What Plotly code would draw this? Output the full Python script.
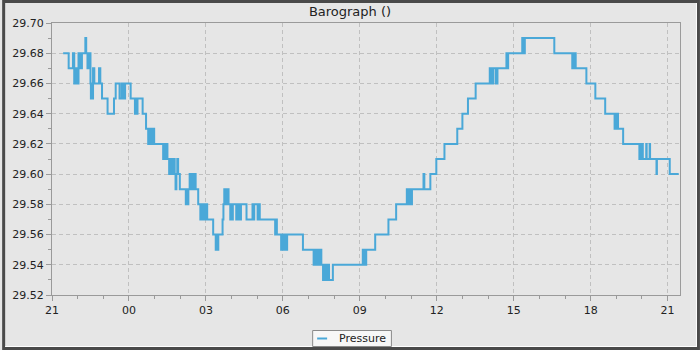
import plotly.graph_objects as go

# ---- data (step readings) ----
day1_times = ["21:26", "21:39", "21:49", "21:52", "21:54", "21:56", "21:58", "22:00", "22:02", "22:06",
              "22:07", "22:09", "22:10", "22:18", "22:20", "22:23", "22:25", "22:27", "22:29", "22:30",
              "22:31", "22:33", "22:35", "22:36", "22:39", "22:50", "22:53", "22:57", "23:10", "23:25",
              "23:29", "23:38", "23:43", "23:45", "23:47", "23:49", "23:51"]
day1_values = [29.68, 29.67, 29.68, 29.66, 29.67, 29.66, 29.67, 29.66, 29.68, 29.67,
               29.68, 29.67, 29.68, 29.69, 29.68, 29.67, 29.68, 29.67, 29.68, 29.66,
               29.65, 29.66, 29.65, 29.67, 29.66, 29.67, 29.66, 29.65, 29.64, 29.65,
               29.66, 29.65, 29.66, 29.65, 29.66, 29.65, 29.66]

day2_times = ["00:04", "00:14", "00:16", "00:18", "00:20", "00:32", "00:40", "00:45", "00:47", "00:49",
              "00:51", "00:53", "00:57", "00:59", "01:20", "01:22", "01:24", "01:26", "01:30", "01:34",
              "01:36", "01:38", "01:40", "01:42", "01:44", "01:47", "01:49", "01:51", "01:53", "01:55",
              "01:59", "02:13", "02:15", "02:17", "02:19", "02:22", "02:24", "02:26", "02:28", "02:30",
              "02:32", "02:34", "02:36", "02:42", "02:47", "02:49", "02:51", "02:53", "02:55", "02:57",
              "02:59", "03:01", "03:03", "03:17", "03:23", "03:25", "03:27", "03:29", "03:39", "03:41",
              "03:43", "03:45", "03:47", "03:49", "03:51", "03:53", "03:57", "03:59", "04:01", "04:03",
              "04:11", "04:12", "04:16", "04:17", "04:21", "04:22", "04:35", "04:49", "04:51", "04:53",
              "05:01", "05:02", "05:06", "05:42", "05:44", "05:46", "05:56", "05:58", "06:00", "06:02",
              "06:04", "06:06", "06:08", "06:10", "06:47", "07:12", "07:14", "07:16", "07:18", "07:22",
              "07:24", "07:26", "07:28", "07:30", "07:34", "07:36", "07:38", "07:40", "07:42", "07:46",
              "07:48", "07:57", "09:07", "09:09", "09:11", "09:13", "09:15", "09:36", "10:07", "10:25",
              "10:50", "10:52", "10:54", "10:56", "10:58", "11:00", "11:02", "11:29", "11:31", "11:45",
              "11:59", "12:18", "12:48", "13:00", "13:13", "13:31", "14:04", "14:06", "14:08", "14:10",
              "14:12", "14:18", "14:20", "14:21", "14:22", "14:43", "14:45", "14:47", "15:20", "15:21",
              "15:23", "15:24", "15:26", "16:35", "17:17", "17:19", "17:21", "17:23", "17:25", "17:50",
              "18:11", "18:34", "18:56", "18:58", "19:00", "19:02", "19:04", "19:16", "19:54", "19:56",
              "19:58", "20:00", "20:02", "20:10", "20:11", "20:18", "20:19", "20:34", "20:35", "21:05",
              "21:26"]
day2_values = [29.65, 29.64, 29.65, 29.64, 29.65, 29.64, 29.63, 29.62, 29.63, 29.62,
               29.63, 29.62, 29.63, 29.62, 29.61, 29.62, 29.61, 29.62, 29.61, 29.60,
               29.61, 29.60, 29.61, 29.60, 29.61, 29.60, 29.59, 29.60, 29.61, 29.60,
               29.59, 29.58, 29.59, 29.58, 29.59, 29.60, 29.59, 29.60, 29.59, 29.60,
               29.59, 29.60, 29.59, 29.58, 29.57, 29.58, 29.57, 29.58, 29.57, 29.58,
               29.57, 29.58, 29.57, 29.56, 29.55, 29.56, 29.55, 29.56, 29.57, 29.58,
               29.59, 29.58, 29.59, 29.58, 29.59, 29.58, 29.57, 29.58, 29.57, 29.58,
               29.57, 29.58, 29.57, 29.58, 29.57, 29.58, 29.57, 29.58, 29.57, 29.58,
               29.57, 29.58, 29.57, 29.56, 29.57, 29.56, 29.55, 29.56, 29.55, 29.56,
               29.55, 29.56, 29.55, 29.56, 29.55, 29.54, 29.55, 29.54, 29.55, 29.54,
               29.55, 29.54, 29.55, 29.54, 29.53, 29.54, 29.53, 29.54, 29.53, 29.54,
               29.53, 29.54, 29.55, 29.54, 29.55, 29.54, 29.55, 29.56, 29.57, 29.58,
               29.59, 29.58, 29.59, 29.58, 29.59, 29.58, 29.59, 29.60, 29.59, 29.60,
               29.61, 29.62, 29.63, 29.64, 29.65, 29.66, 29.67, 29.66, 29.67, 29.66,
               29.67, 29.66, 29.67, 29.66, 29.67, 29.68, 29.67, 29.68, 29.69, 29.68,
               29.69, 29.68, 29.69, 29.68, 29.67, 29.68, 29.67, 29.68, 29.67, 29.66,
               29.65, 29.64, 29.63, 29.64, 29.63, 29.64, 29.63, 29.62, 29.61, 29.62,
               29.61, 29.62, 29.61, 29.62, 29.61, 29.62, 29.61, 29.60, 29.61, 29.60,
               29.60]

day1_date = "2024-01-01"
day2_date = "2024-01-02"
x_range = ["2024-01-01 21:00", "2024-01-02 21:29"]
y_range = [29.52, 29.70]
series_name = "Pressure"
title_text = "Barograph ()"

times = [f"{day1_date} {t}" for t in day1_times] + [f"{day2_date} {t}" for t in day2_times]
values = day1_values + day2_values

LINE_COLOR = "#4aa8d8"
BG = "#e6e6e6"
FRAME = "#9a9a9a"
GRID = "#c0c0c0"
FONT = "DejaVu Sans"

fig = go.Figure()
fig.add_trace(go.Scatter(x=times, y=values, mode="lines", name=series_name,
                         line=dict(color=LINE_COLOR, width=2, shape="hv"),
                         showlegend=False))

L, R, T, B = 50, 20, 23, 55
W, H = 700, 350
PW, PH = W - L - R, H - T - B


def px(xp):
    return (xp - L) / PW


def py(yp):
    return (H - B - yp) / PH


fig.update_layout(
    width=W, height=H,
    margin=dict(l=L, r=R, t=T, b=B),
    paper_bgcolor=BG, plot_bgcolor=BG,
    font=dict(family=FONT, size=11, color="#222222"),
    title=dict(text=title_text, x=0.5, xref="container", xanchor="center",
               y=1 - 11 / H, yref="container", yanchor="middle",
               font=dict(family=FONT, size=13, color="#222222")),
    xaxis=dict(type="date", range=x_range, tick0="2024-01-01 21:00", dtick=3 * 3600000,
               tickformat="%H", ticks="outside", ticklen=5, tickcolor=FRAME,
               showline=True, linecolor=FRAME, linewidth=1, mirror=True,
               showgrid=True, gridcolor=GRID, griddash="4px,3px", gridwidth=1,
               zeroline=False,
               minor=dict(dtick=3600000, ticks="outside", ticklen=3, tickcolor=FRAME, showgrid=False),
               tickfont=dict(family=FONT, size=11, color="#222222")),
    yaxis=dict(range=y_range, dtick=0.02, tick0=29.52, tickformat=".2f",
               ticks="outside", ticklen=5, tickcolor=FRAME,
               showline=True, linecolor=FRAME, linewidth=1, mirror=True,
               showgrid=True, gridcolor=GRID, griddash="4px,3px", gridwidth=1,
               zeroline=False,
               minor=dict(dtick=0.01, ticks="outside", ticklen=3, tickcolor=FRAME, showgrid=False),
               tickfont=dict(family=FONT, size=11, color="#222222")),
)

shapes = []
# outer frame
shapes.append(dict(type="rect", xref="paper", yref="paper",
                   x0=px(1.5), x1=px(698.5), y0=py(348.5), y1=py(1.5),
                   line=dict(color="#4a4a4a", width=3), fillcolor="rgba(0,0,0,0)", layer="above"))
shapes.append(dict(type="line", xref="paper", yref="paper",
                   x0=px(3), x1=px(697), y0=py(346.5), y1=py(346.5),
                   line=dict(color="#ffffff", width=1), layer="above"))
shapes.append(dict(type="line", xref="paper", yref="paper",
                   x0=px(696.5), x1=px(696.5), y0=py(347), y1=py(3),
                   line=dict(color="#ffffff", width=1), layer="above"))
# legend box
shapes.append(dict(type="rect", xref="paper", yref="paper",
                   x0=px(311.5), x1=px(390.5), y0=py(346.5), y1=py(330.5),
                   line=dict(color="#8a8a8a", width=1), fillcolor="#f7f7f7", layer="above"))
shapes.append(dict(type="line", xref="paper", yref="paper",
                   x0=px(316), x1=px(326), y0=py(338.5), y1=py(338.5),
                   line=dict(color=LINE_COLOR, width=2), layer="above"))
fig.update_layout(shapes=shapes)

fig.add_annotation(text=series_name, xref="paper", yref="paper",
                   x=px(336), y=py(338.5), xanchor="left", yanchor="middle",
                   showarrow=False, font=dict(family=FONT, size=11, color="#222222"))

fig.write_html("out.html")
